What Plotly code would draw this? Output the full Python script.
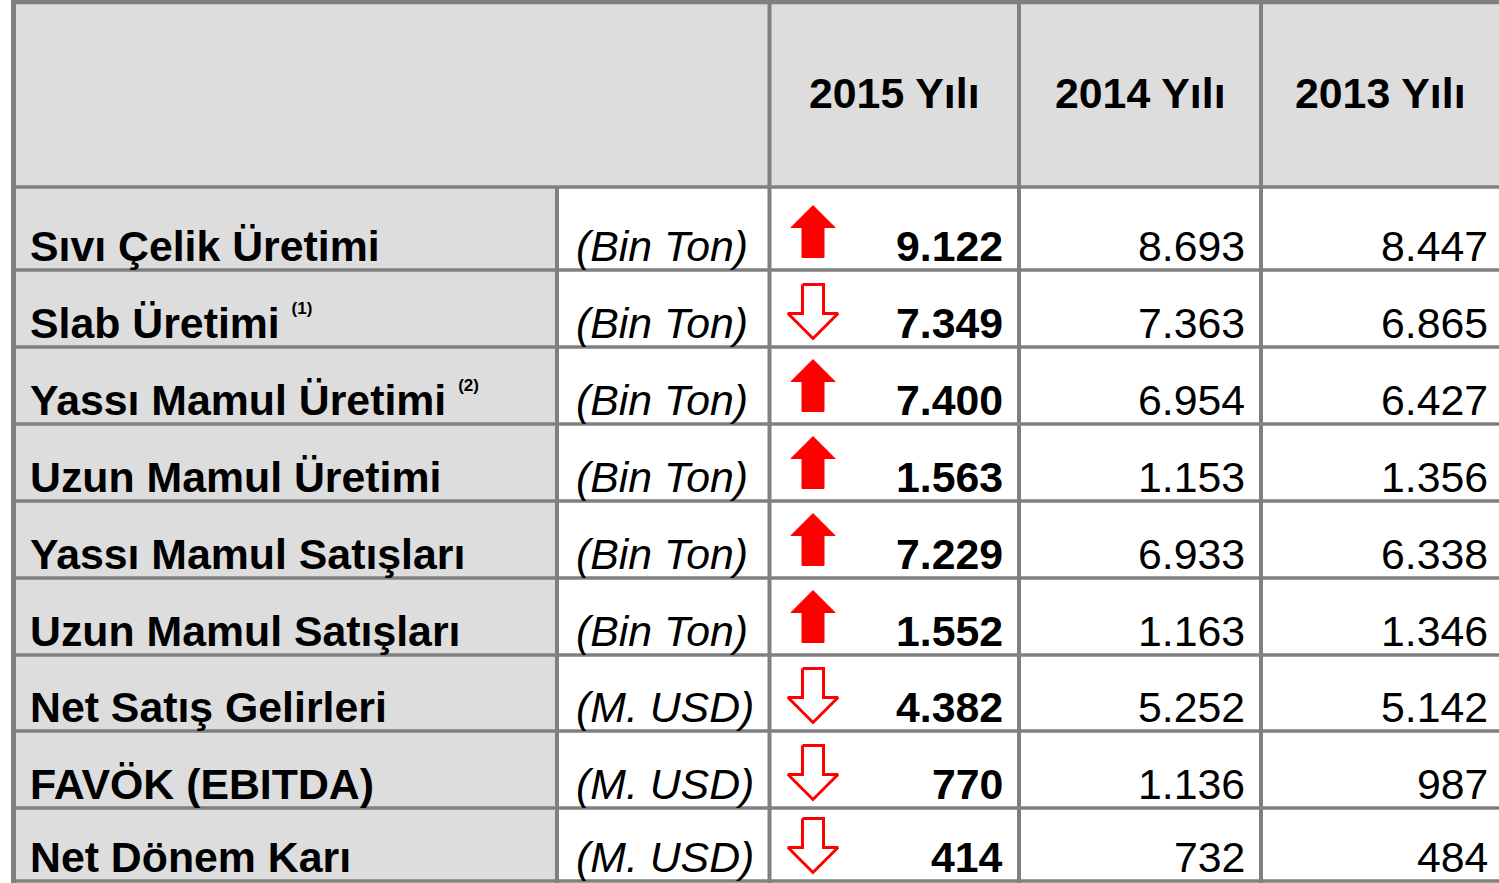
import plotly.graph_objects as go

# ---------------- data ----------------
labels = ["Sıvı Çelik Üretimi", "Slab Üretimi", "Yassı Mamul Üretimi",
          "Uzun Mamul Üretimi", "Yassı Mamul Satışları", "Uzun Mamul Satışları",
          "Net Satış Gelirleri", "FAVÖK (EBITDA)", "Net Dönem Karı"]
footnotes = ["", "(1)", "(2)", "", "", "", "", "", ""]
units = ["(Bin Ton)", "(Bin Ton)", "(Bin Ton)", "(Bin Ton)", "(Bin Ton)",
         "(Bin Ton)", "(M. USD)", "(M. USD)", "(M. USD)"]
year_headers = ["2015 Yılı", "2014 Yılı", "2013 Yılı"]
v2015 = [9122, 7349, 7400, 1563, 7229, 1552, 4382, 770, 414]
v2014 = [8693, 7363, 6954, 1153, 6933, 1163, 5252, 1136, 732]
v2013 = [8447, 6865, 6427, 1356, 6338, 1346, 5142, 987, 484]

# ---------------- layout constants ----------------
W, H = 1499, 883
FONT = "Liberation Sans, Arial, sans-serif"
FS = 42.8
GRID = "#808080"
BG = "#dddddd"
RED = "#ff0000"

x_left = 13.5
col_edges = [x_left, 557, 769.5, 1019, 1261, 1503]
header_top, header_bot = 2, 187
row_edges = [187, 270, 347, 424, 501, 578, 655, 731, 808, 881]


def fmt(v):
    return f"{v:,}".replace(",", ".")


fig = go.Figure()
shapes = []
annotations = []

# backgrounds
shapes.append(dict(type="rect", xref="x", yref="y", x0=x_left, x1=W + 5,
                   y0=header_top, y1=header_bot, fillcolor=BG, line_width=0, layer="below"))
shapes.append(dict(type="rect", xref="x", yref="y", x0=x_left, x1=col_edges[1],
                   y0=header_bot, y1=row_edges[-1], fillcolor=BG, line_width=0, layer="below"))

# horizontal lines
for y in row_edges:
    shapes.append(dict(type="line", xref="x", yref="y", x0=x_left, x1=W + 5, y0=y, y1=y,
                       line=dict(color=GRID, width=3.5), layer="below"))
shapes.append(dict(type="line", xref="x", yref="y", x0=x_left, x1=W + 5, y0=header_top, y1=header_top,
                   line=dict(color=GRID, width=4.5), layer="below"))
# vertical lines
shapes.append(dict(type="line", xref="x", yref="y", x0=x_left, x1=x_left, y0=0, y1=H,
                   line=dict(color=GRID, width=5), layer="below"))
shapes.append(dict(type="line", xref="x", yref="y", x0=col_edges[1], x1=col_edges[1],
                   y0=header_bot, y1=H, line=dict(color=GRID, width=4), layer="below"))
for x in col_edges[2:5]:
    shapes.append(dict(type="line", xref="x", yref="y", x0=x, x1=x, y0=0, y1=H,
                       line=dict(color=GRID, width=4), layer="below"))

# header text
for i, t in enumerate(year_headers):
    cx = (col_edges[2 + i] + min(col_edges[3 + i], W)) / 2
    annotations.append(dict(x=cx, y=118, xref="x", yref="y", text=t, showarrow=False,
                            xanchor="center", yanchor="bottom", borderpad=0,
                            font=dict(family=FONT, size=FS, color="black", weight="bold")))

# rows
for i in range(len(labels)):
    yb = row_edges[i + 1]
    lab = labels[i]
    if footnotes[i]:
        lab += (" <span style='font-size:57px'><sup><span style='font-size:17px;font-weight:bold'>"
                + footnotes[i] + "</span></sup></span>")
    annotations.append(dict(x=29, y=yb + 1, xref="x", yref="y", text=lab, showarrow=False,
                            xanchor="left", yanchor="bottom", borderpad=0,
                            font=dict(family=FONT, size=FS, color="black", weight="bold")))
    annotations.append(dict(x=575, y=yb + 1, xref="x", yref="y", text=units[i], showarrow=False,
                            xanchor="left", yanchor="bottom", borderpad=0,
                            font=dict(family=FONT, size=FS, color="black", style="italic")))
    for vals, xr, bold in ((v2015, 1004, True), (v2014, 1246, False), (v2013, 1489, False)):
        annotations.append(dict(x=xr, y=yb + 1, xref="x", yref="y", text=fmt(vals[i]),
                                showarrow=False, xanchor="right", yanchor="bottom", borderpad=0,
                                font=dict(family=FONT, size=FS, color="black",
                                          weight="bold" if bold else "normal")))

    # arrows
    cx = 813
    if v2015[i] >= v2014[i]:
        bot = yb - 12.5
        tip = bot - 52
        hb = tip + 22
        xs = [cx, cx + 22, cx + 11, cx + 11, cx - 11, cx - 11, cx - 22, cx]
        ys = [tip, hb, hb, bot, bot, hb, hb, tip]
        fig.add_trace(go.Scatter(x=xs, y=ys, mode="lines", fill="toself", fillcolor=RED,
                                 line=dict(color=RED, width=1), hoverinfo="skip", showlegend=False))
    else:
        tip = yb - 8.5
        top = tip - 54
        hb = tip - 25
        xs = [cx - 10.5, cx + 10.5, cx + 10.5, cx + 25, cx, cx - 25, cx - 10.5, cx - 10.5]
        ys = [top, top, hb, hb, tip, hb, hb, top]
        fig.add_trace(go.Scatter(x=xs, y=ys, mode="lines", fill="toself", fillcolor="white",
                                 line=dict(color=RED, width=3), hoverinfo="skip", showlegend=False))

fig.update_layout(
    width=W, height=H, margin=dict(l=0, r=0, t=0, b=0),
    paper_bgcolor="white", plot_bgcolor="white",
    xaxis=dict(range=[0, W], visible=False, fixedrange=True),
    yaxis=dict(range=[H, 0], visible=False, fixedrange=True),
    shapes=shapes, annotations=annotations, showlegend=False,
)

fig.write_html("out.html", config={"displayModeBar": False},
               post_script="document.body.style.margin='0';document.body.style.overflow='hidden';")
